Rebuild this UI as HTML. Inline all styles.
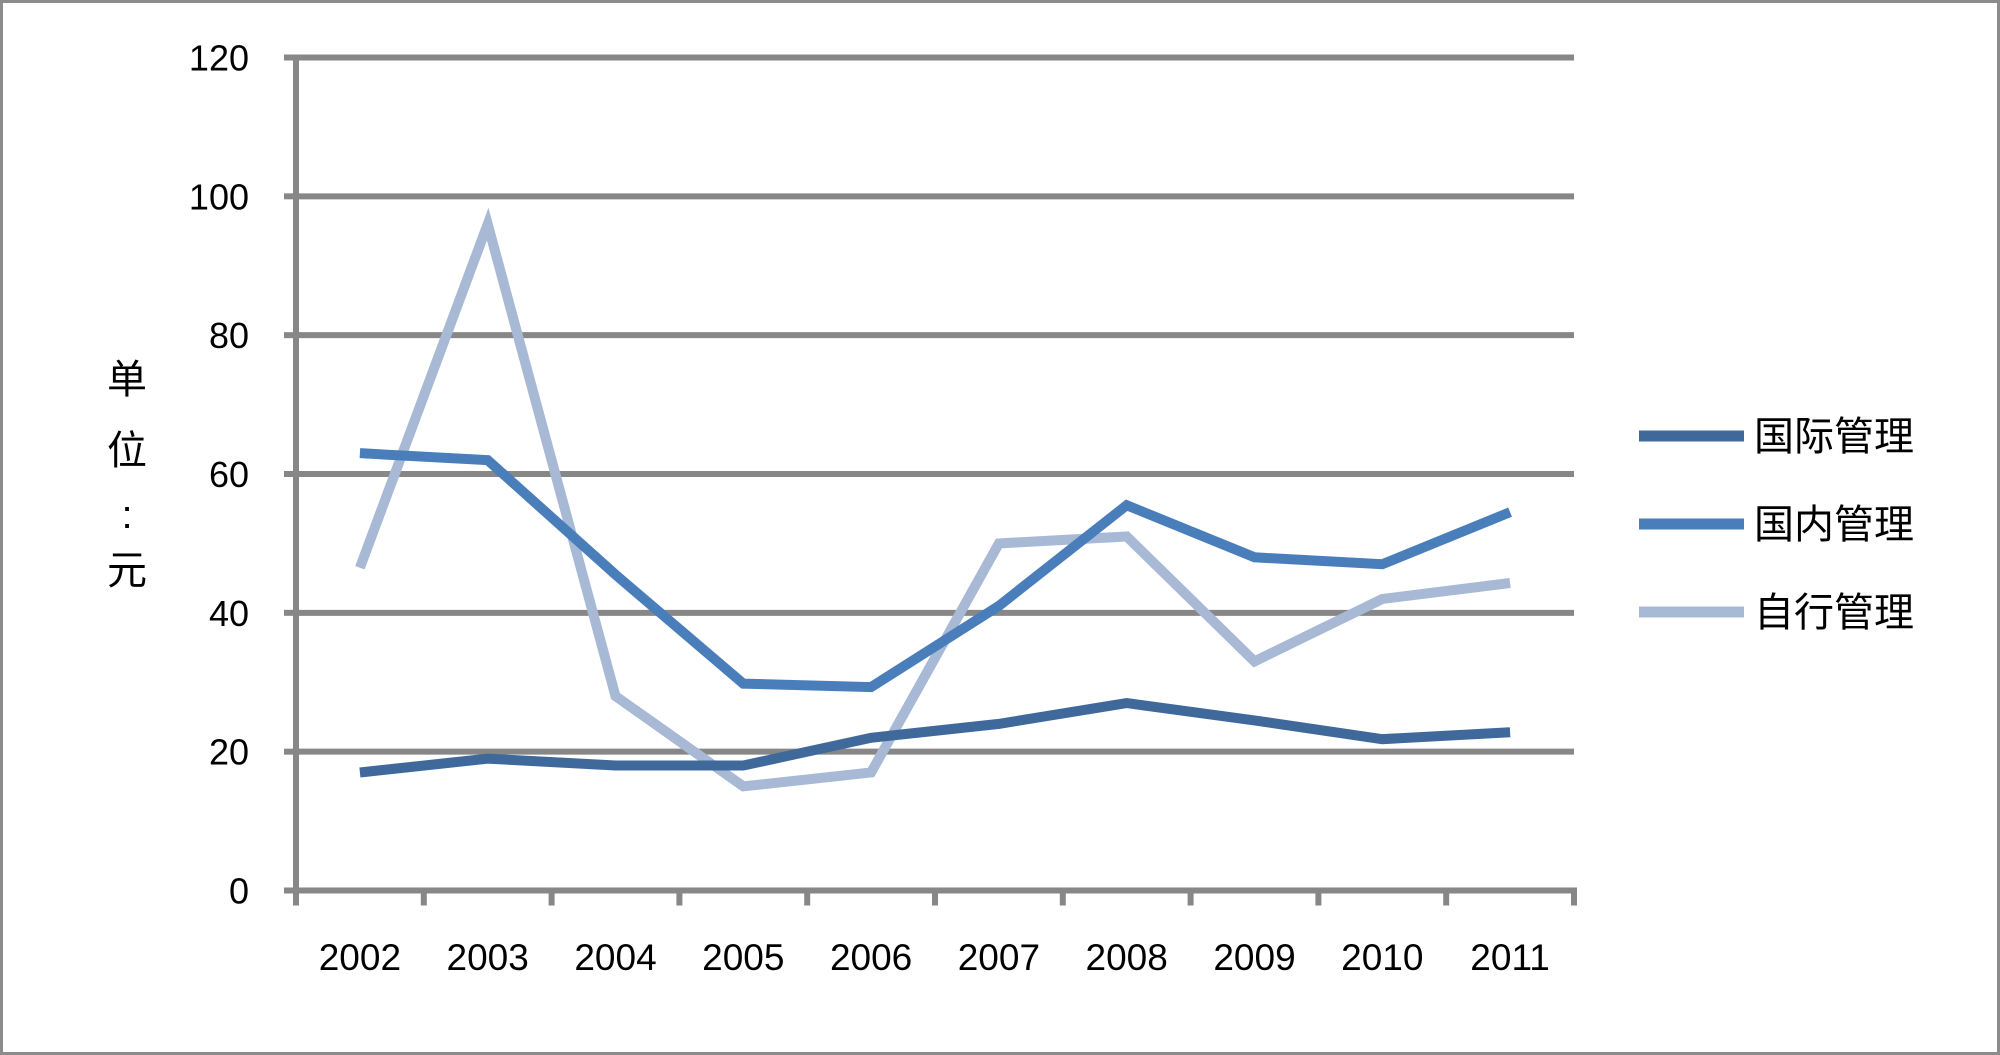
<!DOCTYPE html>
<html><head><meta charset="utf-8"><style>
body{margin:0;background:#fff}
svg{display:block}
text{font-family:"Liberation Sans","Noto Sans CJK SC",sans-serif}
</style></head><body>
<svg width="2000" height="1055">
<rect x="1.5" y="1.5" width="1997" height="1052" fill="#fff" stroke="#8c8c8c" stroke-width="3"/>
<g id="grid"></g><g id="axes"></g><g id="series"></g><g id="legend"></g>
<text x="127" y="0" font-size="40" text-anchor="middle"><tspan x="127" y="393">单</tspan><tspan x="127" y="464">位</tspan><tspan x="127" y="528">:</tspan><tspan x="127" y="584">元</tspan></text>
</svg>
<script>
const categories=["2002","2003","2004","2005","2006","2007","2008","2009","2010","2011"];
const seriesNames=["国际管理","国内管理","自行管理"];
const intl=[17,19,18,18,22,24,27,24.5,21.8,22.8];
const domestic=[63,62,45.5,29.8,29.3,41,55.5,48,47,54.5];
const self=[46.5,96,28,15,17,50,51,33,42,44.3];
const yTicks=[0,20,40,60,80,100,120];
const colors=["#3f689b","#4a7ebb","#a7b9d5"];
const NS="http://www.w3.org/2000/svg";
const X0=296,X1=1574,Y0=890.5,Y1=57.5,YMAX=120;
const band=(X1-X0)/categories.length;
const xs=i=>X0+band*(i+0.5);
const ys=v=>Y0-(v/YMAX)*(Y0-Y1);
function mk(t,a,p){const e=document.createElementNS(NS,t);for(const k in a)e.setAttribute(k,a[k]);p.appendChild(e);return e;}
const grid=document.getElementById('grid'),axes=document.getElementById('axes'),ser=document.getElementById('series'),leg=document.getElementById('legend');
yTicks.forEach(v=>{
 if(v>0){const l=mk('line',{x1:X0,x2:X1,y1:ys(v),y2:ys(v),stroke:'#878787','stroke-width':6},grid);
 }
 const tk=mk('line',{x1:X0-12,x2:X0,y1:ys(v),y2:ys(v),stroke:'#878787','stroke-width':6},axes);
 
 const t=mk('text',{x:249,y:ys(v)+13,'font-size':36,'text-anchor':'end',fill:'#000'},axes);t.textContent=v;
 
});
let a=mk('line',{x1:X0,x2:X0,y1:Y1-3,y2:Y0+15,stroke:'#878787','stroke-width':6},axes);

a=mk('line',{x1:X0-12,x2:X1+3,y1:Y0,y2:Y0,stroke:'#878787','stroke-width':6},axes);

for(let i=0;i<=categories.length;i++){const x=X0+band*i;
 const tk=mk('line',{x1:x,x2:x,y1:Y0,y2:Y0+15,stroke:'#878787','stroke-width':6},axes);
 }
categories.forEach((c,i)=>{const t=mk('text',{x:xs(i),y:970,'font-size':37,'text-anchor':'middle'},axes);t.textContent=c;
 });
[intl,domestic,self].reverse().forEach((d,ri)=>{const k=2-ri;
 const p=mk('polyline',{points:d.map((v,i)=>xs(i)+','+ys(v)).join(' '),fill:'none',stroke:colors[k],'stroke-width':10,'stroke-linejoin':'miter'},ser);
 });
seriesNames.forEach((n,k)=>{const y=436+k*88;
 const l=mk('line',{x1:1639,x2:1744,y1:y,y2:y,stroke:colors[k],'stroke-width':11},leg);
 
 const t=mk('text',{x:1754,y:y+14,'font-size':40},leg);t.textContent=n;
 });
</script>
</body></html>
